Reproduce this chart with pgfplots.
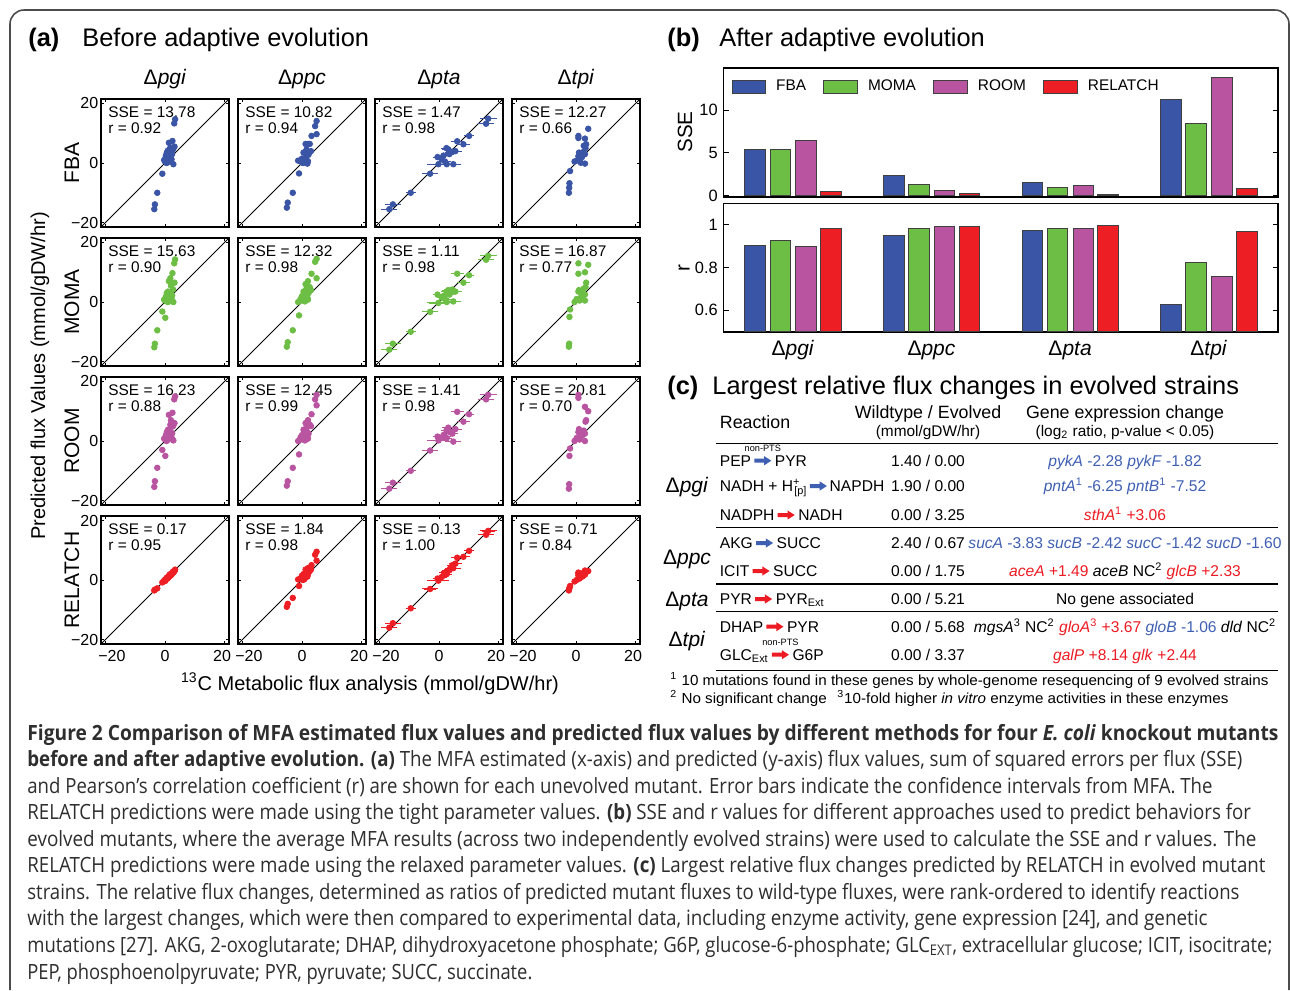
\documentclass[border=0pt]{standalone}
\usepackage{fontspec}
\setmainfont{Liberation Sans}
\newfontfamily\capfont{Open Sans}
\usepackage{graphicx}
\usepackage{pgfplots}
\usepackage{pgfplotstable}
\pgfplotsset{compat=1.18}

\definecolor{fba}{HTML}{3B55A6}
\definecolor{moma}{HTML}{6CBE45}
\definecolor{room}{HTML}{B954A1}
\definecolor{rel}{HTML}{ED1E24}
\definecolor{tblue}{HTML}{3F5FB2}
\definecolor{tred}{HTML}{ED1C24}

\newcommand\fsz[2]{\fontsize{#1bp}{#2bp}\selectfont}

% MFA x values (same for every method) and predicted y values per method
\pgfplotstableread{
x fba moma room rel
3.4 14.7 14.3 15.0 3.5
3.1 13.3 13.0 14.0 3.1
2.5 7.4 9.7 9.5 2.6
1.3 6.8 7.0 8.8 1.4
2.0 4.6 5.5 7.0 2.0
2.7 4.6 4.2 5.0 2.8
1.0 4.2 3.5 3.8 1.0
0.6 3.5 3.0 3.0 0.8
1.8 3.8 2.8 3.5 1.6
2.4 3.0 2.2 2.6 2.2
0.3 2.5 1.8 2.0 0.4
1.2 1.8 1.4 1.8 1.0
2.2 1.2 1.0 1.2 1.8
0.0 0.5 0.5 0.6 0.1
0.5 0.0 0.2 0.0 0.4
1.0 0.3 0.0 0.4 0.7
1.5 0.8 0.6 1.0 1.2
-0.3 1.0 0.8 0.8 -0.2
2.8 -0.4 0.0 0.2 2.5
0.8 2.2 2.5 2.4 0.5
1.6 2.8 3.2 4.0 1.9
-0.9 -3.6 -3.2 -3.0 -0.8
0.1 1.5 -5.3 -5.0 -0.3
-2.6 -10.0 -9.5 -9.0 -2.8
-3.4 -13.9 -14.0 -13.5 -3.2
-3.6 -15.5 -15.2 -15.4 -3.5
3.2 5.5 6.5 6.0 3.0
1.8 5.2 8.0 5.5 1.5
}\tpgi

\pgfplotstableread{
x fba moma room rel
4.9 14.1 14.5 15.5 9.5
4.4 12.4 13.5 14.0 8.5
4.9 9.7 8.0 12.0 6.5
3.2 9.1 9.5 9.0 5.0
2.0 6.4 7.0 7.0 4.0
1.2 6.4 6.0 6.0 3.5
2.6 6.4 5.0 5.5 3.0
1.5 4.5 4.5 4.5 2.5
0.5 3.5 3.5 3.8 2.0
1.8 3.5 2.8 3.0 1.6
2.2 2.8 3.0 2.5 2.8
0.0 1.5 2.0 2.0 1.5
-0.5 0.5 1.0 1.2 0.5
0.3 0.0 0.5 0.5 0.0
1.0 0.2 0.2 0.2 0.8
1.8 -0.2 1.5 1.5 1.2
2.0 0.6 0.8 0.8 2.0
-1.3 0.8 0.0 0.0 0.2
0.8 1.0 1.8 1.0 0.3
-1.0 -3.5 -4.5 -4.5 -2.0
-3.1 -10.0 -9.5 -9.0 -6.0
-4.8 -13.3 -13.5 -13.5 -8.0
-5.1 -15.0 -15.0 -15.0 -9.0
1.4 2.0 2.3 3.3 1.0
3.0 4.0 4.0 5.0 3.5
}\tppc

\pgfplotstableread{
x ex fba moma room rel
16.5 2.2 14.9 15.5 15.5 16.5
15.8 2.0 13.2 14.2 14.0 15.2
10.1 1.0 9.1 9.0 9.0 9.8
6.1 1.5 7.3 9.5 9.8 7.5
8.2 1.5 6.3 6.5 6.5 7.8
3.1 1.5 4.6 4.0 4.5 3.2
3.7 1.0 3.5 3.0 3.0 3.8
2.5 1.0 5.0 3.5 3.5 2.8
4.5 1.2 3.8 4.2 2.5 5.0
0.9 1.0 1.2 1.5 1.0 1.0
-0.2 3.0 -0.4 -0.3 0.2 -0.2
2.6 1.0 -0.4 0.0 1.0 2.0
4.8 2.0 -0.4 0.2 -0.2 4.0
1.5 1.0 2.5 2.0 2.0 1.5
2.0 1.5 0.5 1.0 1.5 2.5
-0.5 1.0 2.0 2.5 1.5 0.5
-3.0 2.0 -3.6 -3.3 -3.2 -3.0
-9.5 1.0 -10.0 -10.0 -10.0 -9.5
-15.5 2.0 -13.9 -14.0 -14.0 -14.5
5.5 1.5 4.0 3.5 4.0 5.5
-16.7 2.0 -15.5 -16.0 -16.0 -16.0
3.5 1.0 3.0 2.5 3.2 3.3
}\tpta

\pgfplotstableread{
x fba moma room rel
4.1 11.5 12.5 10.0 3.0
0.8 9.1 13.0 15.5 2.5
0.8 8.4 9.5 14.5 2.2
3.0 8.2 10.0 11.5 3.2
3.4 6.3 6.5 7.0 2.8
3.2 5.0 5.0 6.5 2.6
2.6 5.8 4.5 3.5 2.0
0.8 2.3 3.5 3.0 1.5
1.6 0.1 1.5 1.5 1.0
3.0 -0.2 0.5 0.0 1.8
3.0 3.0 2.5 2.5 2.5
-2.0 -2.7 -2.5 -2.5 -2.0
-2.2 -6.8 -5.0 -5.0 -2.6
-2.3 -8.3 -14.0 -14.5 -3.0
-2.4 -10.0 -15.0 -16.0 -3.5
1.2 1.5 0.5 0.5 0.5
2.2 3.6 2.0 2.0 1.2
0.2 0.8 1.0 1.0 0.0
-0.5 0.5 0.0 0.0 -0.5
2.0 2.0 3.0 2.0 2.2
1.0 3.5 4.0 4.0 1.0
}\ttpi

\pgfplotsset{
  sc/.style={scale only axis, width=64bp, height=64bp, anchor=north west,
    xmin=-21.5, xmax=21.5, ymin=-21.5, ymax=21.5,
    xtick={-20,0,20}, ytick={-20,0,20}, xticklabels={}, yticklabels={},
    tick align=inside, major tick length=1.6bp,
    axis line style={line width=0.9bp}, tick style={black, line width=0.5bp},
    tick label style={font=\fsz{8}{9}},
    xticklabel style={anchor=base, yshift=-8.85bp},
    yticklabel style={anchor=east, inner sep=0pt, xshift=-1.2bp}},
  bb/.style={scale only axis, width=277.25bp, anchor=north west,
    xmin=-0.5, xmax=3.5, tick align=inside, major tick length=2.5bp,
    axis line style={line width=0.8bp}, tick style={black, line width=0.5bp},
    yticklabel style={anchor=east, inner sep=0pt, xshift=-2.7bp, font=\fsz{8.2}{9}}},
  bars/.style={ybar, bar width=0.148, draw=black!75, line width=0.5bp,
    legend image code/.code={\draw[##1] (0bp,-3.2bp) rectangle (16.8bp,3.2bp);}},
}

% one scatter panel: x, y (bp), table, column, colour, SSE, r, extra options
\newcommand\panel[8]{%
  \begin{axis}[sc, at={(#1bp,#2bp)}, #8]
    \addplot[black, line width=0.45bp] coordinates {(-21.5,-21.5) (21.5,21.5)};
    \addplot[only marks, mark=*, mark size=1.4bp, color=#5] table[x=x, y=#4] {#3};
    \node[anchor=north west, align=left, inner sep=0pt, font=\fsz{7.7}{8}]
      at (rel axis cs:0.055,0.945) {SSE = #6\\r = #7};
  \end{axis}}
\newcommand\panelerr[8]{%
  \begin{axis}[sc, at={(#1bp,#2bp)}, #8]
    \addplot[black, line width=0.45bp] coordinates {(-21.5,-21.5) (21.5,21.5)};
    \addplot[only marks, mark=*, mark size=1.4bp, color=#5,
      error bars/.cd, x dir=both, x explicit,
      error bar style={line width=0.6bp},
      error mark options={mark size=1bp, line width=0.5bp}]
      table[x=x, y=#4, x error=ex] {#3};
    \node[anchor=north west, align=left, inner sep=0pt, font=\fsz{7.7}{8}]
      at (rel axis cs:0.055,0.945) {SSE = #6\\r = #7};
  \end{axis}}

\newcommand\capline[3]{\node[anchor=base west, inner sep=0pt] at (27,#1)
  {\resizebox{#2bp}{\height}{\capfont\fsz{10.5}{12}\color{black!82}#3}};}

\newsavebox\barrow \newsavebox\rarrow \newsavebox\bptsarrow \newsavebox\rptsarrow
\newcommand\arrowshape[1]{\fill[#1] (0,-1bp) -- (4.9bp,-1bp) -- (4.9bp,-2.3bp) -- (8.5bp,0)
  -- (4.9bp,2.3bp) -- (4.9bp,1bp) -- (0,1bp) -- cycle;}
\newcommand\pts{\node[overlay, inner sep=0pt, font=\fsz{4.6}{5}] at (4.25bp,6bp) {non-PTS};}

\begin{document}%
\sbox\barrow{\tikz[baseline={(0,-2.8bp)}]{\arrowshape{tblue}}}%
\sbox\rarrow{\tikz[baseline={(0,-2.8bp)}]{\arrowshape{tred}}}%
\sbox\bptsarrow{\tikz[baseline={(0,-2.8bp)}]{\arrowshape{tblue}\pts}}%
\sbox\rptsarrow{\tikz[baseline={(0,-2.8bp)}]{\arrowshape{tred}\pts}}%
\begin{tikzpicture}[x=0.5bp, y=-0.5bp, t/.style={inner sep=0pt}]
\useasboundingbox[fill=white] (0,0) rectangle (1290,990);
\draw[black!70, line width=0.8bp, rounded corners=7bp] (10,990) -- (10,10) -- (1289,10) -- (1289,990);

% ---------- (a)
\node[t, anchor=base west, font=\fsz{12.7}{14}\bfseries] at (28,46) {(a)};
\node[t, anchor=base west, font=\fsz{12.7}{14}] at (82,46) {Before adaptive evolution};
\foreach \cx/\g in {165/pgi, 302/ppc, 439/pta, 576/tpi}
  \node[t, anchor=base, font=\fsz{10.5}{12}] at (\cx,84) {Δ\textit{\g}};
\foreach \cy/\m in {163/FBA, 302/MOMA, 441/ROOM, 580/RELATCH}
  \node[t, rotate=90, font=\fsz{10.5}{12}] at (72,\cy) {\m};
\node[t, rotate=90, font=\fsz{10}{12}] at (40,376) {Predicted flux Values (mmol/gDW/hr)};
\node[t, anchor=base, font=\fsz{10}{12}] at (370,690) {\textsuperscript{13}C Metabolic flux analysis (mmol/gDW/hr)};

\panel{50.5}{-49.5}{\tpgi}{fba}{fba}{13.78}{0.92}{yticklabels={−20,0,20}}
\panel{119}{-49.5}{\tppc}{fba}{fba}{10.82}{0.94}{}
\panelerr{187.5}{-49.5}{\tpta}{fba}{fba}{1.47}{0.98}{}
\panel{256}{-49.5}{\ttpi}{fba}{fba}{12.27}{0.66}{}

\panel{50.5}{-119}{\tpgi}{moma}{moma}{15.63}{0.90}{yticklabels={−20,0,20}}
\panel{119}{-119}{\tppc}{moma}{moma}{12.32}{0.98}{}
\panelerr{187.5}{-119}{\tpta}{moma}{moma}{1.11}{0.98}{}
\panel{256}{-119}{\ttpi}{moma}{moma}{16.87}{0.77}{}

\panel{50.5}{-188.5}{\tpgi}{room}{room}{16.23}{0.88}{yticklabels={−20,0,20}}
\panel{119}{-188.5}{\tppc}{room}{room}{12.45}{0.99}{}
\panelerr{187.5}{-188.5}{\tpta}{room}{room}{1.41}{0.98}{}
\panel{256}{-188.5}{\ttpi}{room}{room}{20.81}{0.70}{}

\panel{50.5}{-258}{\tpgi}{rel}{rel}{0.17}{0.95}{yticklabels={−20,0,20}, xticklabels={\hspace*{6.5bp}−20,0,20\hspace*{2.5bp}}}
\panel{119}{-258}{\tppc}{rel}{rel}{1.84}{0.98}{xticklabels={\hspace*{6.5bp}−20,0,20\hspace*{2.5bp}}}
\panelerr{187.5}{-258}{\tpta}{rel}{rel}{0.13}{1.00}{xticklabels={\hspace*{6.5bp}−20,0,20\hspace*{2.5bp}}}
\panel{256}{-258}{\ttpi}{rel}{rel}{0.71}{0.84}{xticklabels={\hspace*{6.5bp}−20,0,20\hspace*{2.5bp}}}

% ---------- (b)
\node[t, anchor=base west, font=\fsz{12.7}{14}\bfseries] at (667,46) {(b)};
\node[t, anchor=base west, font=\fsz{12.7}{14}] at (719,46) {After adaptive evolution};
\node[t, rotate=90, font=\fsz{10.3}{12}] at (685,132) {SSE};
\node[t, rotate=90, font=\fsz{10.3}{12}] at (684,268) {r};

\begin{axis}[bb, at={(361.75bp,-33.85bp)}, height=64.5bp,
    ymin=-0.15, ymax=15, ytick={0,5,10}, yticklabels={0,5,10}, xtick=\empty,
    legend columns=4,
    legend style={draw=none, fill=none, at={(axis description cs:0.0144,0.853)}, anchor=west,
      font=\fsz{7.7}{9}, inner sep=0pt, outer sep=0pt, nodes={inner sep=0pt},
      /tikz/every odd column/.append style={column sep=5bp},
      /tikz/every even column/.append style={column sep=8.7bp}}]
  \addplot[bars, bar shift=-0.272, fill=fba] coordinates {(0,5.4) (1,2.3) (2,1.5) (3,11.3)};
  \addplot[bars, bar shift=-0.09, fill=moma] coordinates {(0,5.4) (1,1.26) (2,0.9) (3,8.5)};
  \addplot[bars, bar shift=0.095, fill=room] coordinates {(0,6.4) (1,0.55) (2,1.15) (3,13.9)};
  \addplot[bars, bar shift=0.275, fill=rel] coordinates {(0,0.45) (1,0.28) (2,0.12) (3,0.8)};
  \legend{FBA,MOMA,ROOM,RELATCH}
\end{axis}

\begin{axis}[bb, at={(361.75bp,-101.65bp)}, height=64.2bp,
    ymin=0.5, ymax=1.1, ytick={0.6,0.8,1}, yticklabels={0.6,0.8,1},
    xtick={0,1,2,3}, xticklabels={Δ\textit{pgi},Δ\textit{ppc},Δ\textit{pta},Δ\textit{tpi}},
    xtick style={draw=none},
    xticklabel style={anchor=base, yshift=-12.1bp, font=\fsz{10.5}{12}}]
  \addplot[bars, bar shift=-0.272, fill=fba] coordinates {(0,0.903) (1,0.95) (2,0.973) (3,0.626)};
  \addplot[bars, bar shift=-0.09, fill=moma] coordinates {(0,0.926) (1,0.98) (2,0.984) (3,0.825)};
  \addplot[bars, bar shift=0.095, fill=room] coordinates {(0,0.90) (1,0.992) (2,0.98) (3,0.758)};
  \addplot[bars, bar shift=0.275, fill=rel] coordinates {(0,0.984) (1,0.994) (2,0.997) (3,0.966)};
\end{axis}

% ---------- (c)
\node[t, anchor=base west, font=\fsz{12.7}{14}\bfseries] at (667,394) {(c)};
\node[t, anchor=base west, font=\fsz{12.7}{14}] at (712,394) {Largest relative flux changes in evolved strains};

\node[t, anchor=base west, font=\fsz{8.9}{10}] at (719.5,428.4) {Reaction};
\node[t, anchor=base, font=\fsz{8.9}{10}] at (928,418) {Wildtype / Evolved};
\node[t, anchor=base, font=\fsz{7.7}{9}] at (928,436.5) {(mmol/gDW/hr)};
\node[t, anchor=base, font=\fsz{8.9}{10}] at (1125,418) {Gene expression change};
\node[t, anchor=base, font=\fsz{7.7}{9}] at (1125,436.5) {(log\textsubscript{2} ratio, p-value < 0.05)};

\foreach \ry in {443.3, 527.7, 584, 611.7, 670.7}
  \draw[line width=0.75bp] (716,\ry) -- (1278,\ry);

\foreach \ry/\g in {492.5/pgi, 564.5/ppc, 606.5/pta, 646.5/tpi}
  \node[t, anchor=base, font=\fsz{10.5}{12}] at (687,\ry) {Δ\textit{\g}};

\begin{scope}[every node/.style={inner sep=0pt, font=\fsz{7.8}{9}}]
\node[anchor=base west] at (719.5,466.3) {PEP\kern1.6bp\usebox\bptsarrow\kern1.8bp PYR};
\node[anchor=base west] at (719.5,491.6) {NADH + H\rlap{\textsuperscript{+}}\kern0.6bp\textsubscript{[p]}\kern1.2bp\usebox\barrow\kern1.4bp NAPDH};
\node[anchor=base west] at (719.5,520.6) {NADPH\kern1.6bp\usebox\rarrow\kern1.8bp NADH};
\node[anchor=base west] at (719.5,548.6) {AKG\kern1.6bp\usebox\barrow\kern1.8bp SUCC};
\node[anchor=base west] at (719.5,576.6) {ICIT\kern1.6bp\usebox\rarrow\kern1.8bp SUCC};
\node[anchor=base west] at (719.5,604.6) {PYR\kern1.6bp\usebox\rarrow\kern1.8bp PYR\textsubscript{Ext}};
\node[anchor=base west] at (719.5,632.3) {DHAP\kern1.6bp\usebox\rarrow\kern1.8bp PYR};
\node[anchor=base west] at (719.5,660.3) {GLC\textsubscript{Ext}\kern1.6bp\usebox\rptsarrow\kern1.8bp G6P};

\node[anchor=base] at (928,466.3) {1.40 / 0.00};
\node[anchor=base] at (928,491.6) {1.90 / 0.00};
\node[anchor=base] at (928,520.6) {0.00 / 3.25};
\node[anchor=base] at (928,548.6) {2.40 / 0.67};
\node[anchor=base] at (928,576.6) {0.00 / 1.75};
\node[anchor=base] at (928,604.6) {0.00 / 5.21};
\node[anchor=base] at (928,632.3) {0.00 / 5.68};
\node[anchor=base] at (928,660.3) {0.00 / 3.37};

\node[anchor=base, text=tblue] at (1125,466.3) {\textit{pykA} -2.28 \textit{pykF} -1.82};
\node[anchor=base, text=tblue] at (1125,491.6) {\textit{pntA}\textsuperscript{1} -6.25 \textit{pntB}\textsuperscript{1} -7.52};
\node[anchor=base, text=tred] at (1125,520.6) {\textit{sthA}\textsuperscript{1} +3.06};
\node[anchor=base, text=tblue] at (1125,548.6) {\textit{sucA} -3.83 \textit{sucB} -2.42 \textit{sucC} -1.42 \textit{sucD} -1.60};
\node[anchor=base] at (1125,576.6) {{\color{tred}\textit{aceA} +1.49} \textit{aceB} NC\textsuperscript{2} {\color{tred}\textit{glcB} +2.33}};
\node[anchor=base] at (1125,604.6) {No gene associated};
\node[anchor=base] at (1125,632.3) {\textit{mgsA}\textsuperscript{3} NC\textsuperscript{2} {\color{tred}\textit{gloA}\textsuperscript{3} +3.67} {\color{tblue}\textit{gloB} -1.06} \textit{dld} NC\textsuperscript{2}};
\node[anchor=base, text=tred] at (1125,660.3) {\textit{galP} +8.14 \textit{glk} +2.44};
\end{scope}

\node[t, anchor=base west] at (670,685.2) {\resizebox{299bp}{\height}{\fsz{7.3}{8}\textsuperscript{1} 10 mutations found in these genes by whole-genome resequencing of 9 evolved strains}};
\node[t, anchor=base west] at (670,703) {\resizebox{279bp}{\height}{\fsz{7.3}{8}\textsuperscript{2} No significant change\hspace{5bp}\textsuperscript{3}10-fold higher \textit{in vitro} enzyme activities in these enzymes}};

% ---------- caption
\capline{740}{625.5}{\bfseries Figure 2 Comparison of MFA estimated flux values and predicted flux values by different methods for four \textit{E. coli} knockout mutants}
\capline{766.6}{607.5}{\textbf{before and after adaptive evolution. (a)} The MFA estimated (x-axis) and predicted (y-axis) flux values, sum of squared errors per flux (SSE)}
\capline{793.1}{592.5}{and Pearson’s correlation coefficient (r) are shown for each unevolved mutant. Error bars indicate the confidence intervals from MFA. The}
\capline{819.7}{611.75}{RELATCH predictions were made using the tight parameter values. \textbf{(b)} SSE and r values for different approaches used to predict behaviors for}
\capline{846.2}{614.5}{evolved mutants, where the average MFA results (across two independently evolved strains) were used to calculate the SSE and r values. The}
\capline{872.8}{619}{RELATCH predictions were made using the relaxed parameter values. \textbf{(c)} Largest relative flux changes predicted by RELATCH in evolved mutant}
\capline{899.4}{606}{strains. The relative flux changes, determined as ratios of predicted mutant fluxes to wild-type fluxes, were rank-ordered to identify reactions}
\capline{925.9}{590}{with the largest changes, which were then compared to experimental data, including enzyme activity, gene expression [24], and genetic}
\capline{952.5}{622.5}{mutations [27]. AKG, 2-oxoglutarate; DHAP, dihydroxyacetone phosphate; G6P, glucose-6-phosphate; GLC\textsubscript{EXT}, extracellular glucose; ICIT, isocitrate;}
\capline{979}{252.5}{PEP, phosphoenolpyruvate; PYR, pyruvate; SUCC, succinate.}
\end{tikzpicture}%
\end{document}
